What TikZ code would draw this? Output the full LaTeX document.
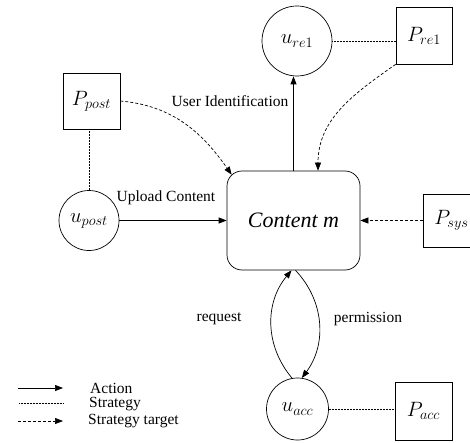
\documentclass[tikz,border=0pt]{standalone}
\usepackage{amsmath}
\usepackage{fontspec}
\setmainfont{Liberation Serif}[ItalicFont={Liberation Serif Italic}]
\usetikzlibrary{arrows.meta}

\tikzset{
  act/.style={line width=0.7pt, black, -{Triangle[length=8pt,width=6pt]}},
  strat/.style={line width=0.7pt, black, dash pattern=on 0.8pt off 0.7pt},
  target/.style={line width=0.7pt, black, dash pattern=on 3pt off 2pt, -{Triangle[length=8pt,width=6pt]}},
  user/.style={circle, draw, line width=0.7pt, inner sep=0pt, font=\fontsize{21}{24}\selectfont},
  pol/.style={rectangle, draw, line width=0.7pt, inner sep=0pt, font=\fontsize{21}{24}\selectfont},
  lbl/.style={font=\fontsize{15.5}{18}\selectfont, inner sep=1pt}
}

\begin{document}
\begin{tikzpicture}[x=1pt,y=1pt]
\useasboundingbox (0,0) rectangle (470,442);

\node[draw, line width=0.7pt, rounded corners=15pt, minimum width=133pt, minimum height=99pt,
      font=\fontsize{22}{26}\selectfont\itshape] (0) at (293.5,221.5) {Content m};
\node[user, minimum size=70pt] (1) at (297,401) {$u_{re1}$};
\node[pol, minimum width=56pt, minimum height=57pt] (2) at (424,406.5) {$P_{re1}$};
\node[pol, minimum width=57pt, minimum height=56pt] (3) at (91.5,341) {$P_{post}$};
\node[user, minimum size=60pt] (4) at (89,221.5) {$u_{post}$};
\node[pol, minimum width=57pt, minimum height=53pt] (5) at (451.5,221.5) {$P_{sys}$};
\node[user, minimum size=62pt] (6) at (297.5,33) {$u_{acc}$};
\node[pol, minimum width=57pt, minimum height=58pt] (7) at (423.5,31) {$P_{acc}$};

\draw[act] (0.north) -- (0.north |- 1.south);
\draw[strat] (1.east) -- (1.east -| 2.west);
\draw[target] (2.south west) to[out=215,in=90] ([xshift=24.5pt]0.north);
\draw[target] (3.east) to[out=-5,in=125] ([shift={(5pt,-4pt)}]0.north west);
\draw[strat] (4.north |- 3.south) -- (4.north);
\draw[act] (4) -- (0);
\draw[target] (5) -- (0);
\draw[act] (6.100) to[bend left=40] ([xshift=-2pt]0.south);
\draw[act] ([xshift=2pt]0.south) to[bend left=40] (6.82);
\draw[strat] (6.east) -- (6.east -| 7.west);

\node[lbl] (8) at (230,341) {User Identification};
\node[lbl] (9) at (166,244) {Upload Content};
\node[lbl] (10) at (219,123) {request};
\node[lbl] (11) at (368,123) {permission};

\coordinate (12) at (18,54);
\coordinate (13) at (63,54);
\coordinate (14) at (19,39);
\coordinate (15) at (63,39);
\coordinate (16) at (18,21);
\coordinate (17) at (63,21);
\draw[act] (12) -- (13);
\draw[strat] (14) -- (15);
\draw[target] (16) -- (17);
\node[lbl, anchor=west] (18) at (89,54) {Action};
\node[lbl, anchor=west] (19) at (88,38) {Strategy};
\node[lbl, anchor=west] (20) at (87,21) {Strategy target};

\end{tikzpicture}
\end{document}
